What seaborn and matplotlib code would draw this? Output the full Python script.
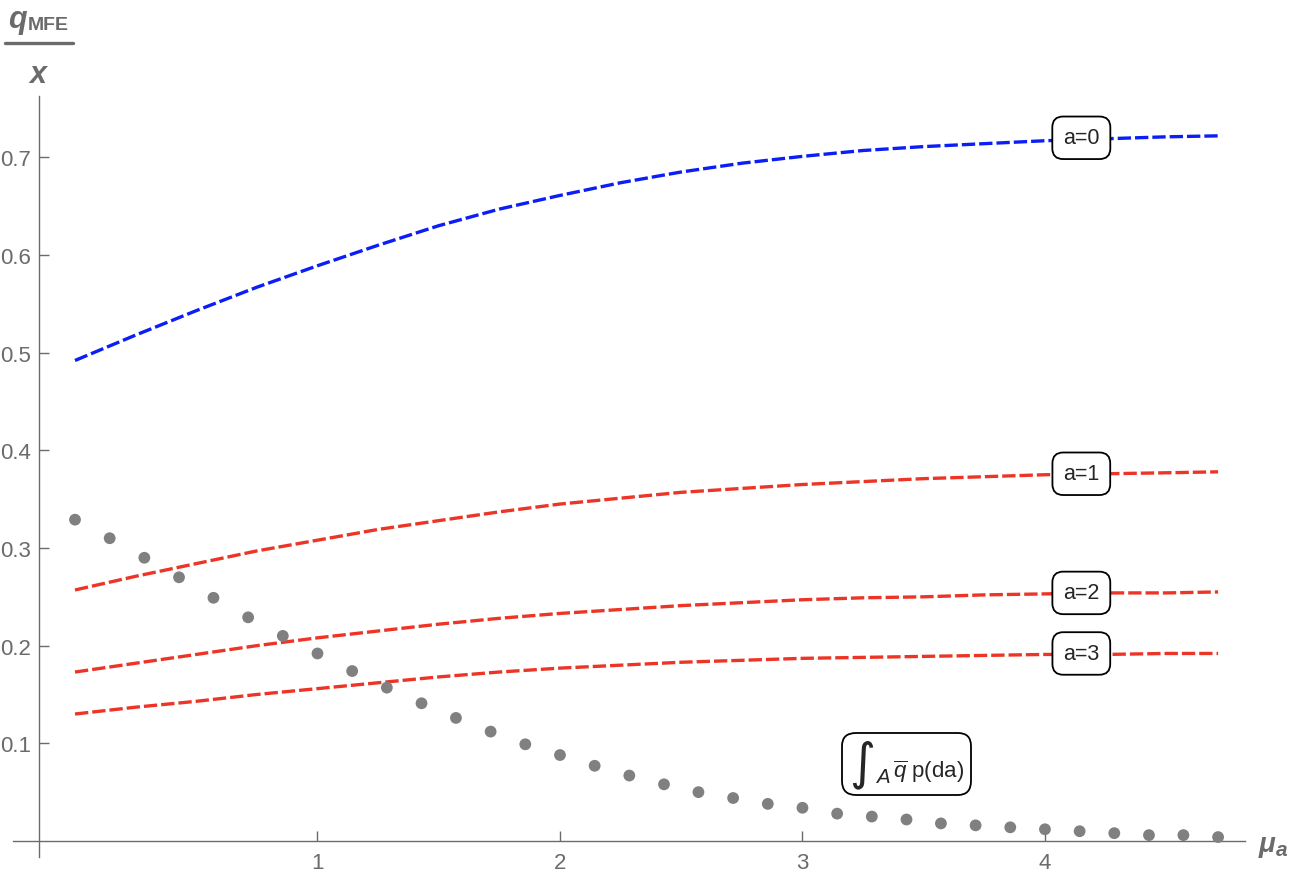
import numpy as np
import pandas as pd
import matplotlib
matplotlib.use("Agg")
import matplotlib.pyplot as plt
import seaborn as sns
from matplotlib.lines import Line2D
from matplotlib.offsetbox import TextArea, HPacker, AnnotationBbox

# curves q_MFE/x against mu_a, one per a
mu = [0.0, 0.25, 0.5, 0.75, 1.0, 1.25, 1.5, 1.75, 2.0, 2.25, 2.5, 2.75,
      3.0, 3.25, 3.5, 3.75, 4.0, 4.25, 4.5, 4.714]
q_a0 = [0.492, 0.518, 0.543, 0.567, 0.589, 0.610, 0.630, 0.647, 0.661, 0.674,
        0.685, 0.694, 0.701, 0.707, 0.711, 0.714, 0.717, 0.719, 0.721, 0.722]
q_a1 = [0.257, 0.271, 0.284, 0.297, 0.308, 0.319, 0.328, 0.337, 0.345, 0.351,
        0.357, 0.361, 0.365, 0.368, 0.371, 0.373, 0.375, 0.376, 0.377, 0.378]
q_a2 = [0.173, 0.182, 0.191, 0.200, 0.208, 0.215, 0.222, 0.228, 0.233, 0.237,
        0.241, 0.244, 0.247, 0.249, 0.250, 0.252, 0.253, 0.254, 0.254, 0.255]
q_a3 = [0.130, 0.137, 0.143, 0.150, 0.156, 0.162, 0.168, 0.173, 0.177, 0.180,
        0.183, 0.185, 0.187, 0.188, 0.189, 0.190, 0.191, 0.191, 0.192, 0.192]

# integral over A of q-bar p(da)
dot_mu = [0.000, 0.143, 0.286, 0.429, 0.571, 0.714, 0.857, 1.000, 1.143, 1.286,
          1.429, 1.571, 1.714, 1.857, 2.000, 2.143, 2.286, 2.429, 2.571, 2.714,
          2.857, 3.000, 3.143, 3.286, 3.429, 3.571, 3.714, 3.857, 4.000, 4.143,
          4.286, 4.429, 4.571, 4.714]
dot_q = [0.329, 0.310, 0.290, 0.270, 0.249, 0.229, 0.210, 0.192, 0.174, 0.157,
         0.141, 0.126, 0.112, 0.099, 0.088, 0.077, 0.067, 0.058, 0.050, 0.044,
         0.038, 0.034, 0.028, 0.025, 0.022, 0.018, 0.016, 0.014, 0.012, 0.010,
         0.008, 0.006, 0.006, 0.004]

labels = ["a=0", "a=1", "a=2", "a=3"]
label_y = [0.720, 0.376, 0.254, 0.192]
y_ticks = [0.1, 0.2, 0.3, 0.4, 0.5, 0.6, 0.7]
x_ticks = [1, 2, 3, 4]

sns.set_style("white")
plt.rcParams['font.family'] = ['Liberation Sans', 'DejaVu Sans']
plt.rcParams['mathtext.fontset'] = 'custom'
plt.rcParams['mathtext.rm'] = 'Liberation Sans'
plt.rcParams['mathtext.it'] = 'Liberation Sans:italic'

gray = '#6b6b6b'
blue = '#0a1ef5'
red = '#ec3526'

fig = plt.figure(figsize=(13, 8.78), dpi=100)
W, H = 1300, 878
ax = fig.add_axes([13 / W, (H - 858) / H, (1245 - 13) / W, (858 - 97) / H])

df = pd.DataFrame({'mu': mu * 4,
                   'q': q_a0 + q_a1 + q_a2 + q_a3,
                   'a': sum([[l] * len(mu) for l in labels], [])})
colors = {"a=0": blue, "a=1": red, "a=2": red, "a=3": red}
for lab in labels:
    sub = df[df['a'] == lab]
    sns.lineplot(data=sub, x='mu', y='q', color=colors[lab], linewidth=2.4,
                 linestyle=(0, (4.0, 1.2)), ax=ax, zorder=2)

sns.scatterplot(x=dot_mu, y=dot_q, color='#808080', s=72, edgecolor='none',
                ax=ax, zorder=3)

for lab, ly in zip(labels, label_y):
    ax.text(4.15, ly, lab, fontsize=15.5, ha='center', va='center', zorder=5,
            bbox=dict(boxstyle='round,pad=0.5,rounding_size=0.5',
                      fc='white', ec='black', lw=1.3))

# callout for the dotted series, with a tall integral sign
int_sign = TextArea('∫', textprops=dict(fontsize=36,
                                        family=['DejaVu Sans']))
int_sub = TextArea(r'$_{A}$', textprops=dict(fontsize=21))
int_head = HPacker(children=[int_sign, int_sub], align='baseline', pad=0,
                   sep=0)
int_body = TextArea(r'$\overline{q}$ p(da)', textprops=dict(fontsize=16))
pack = HPacker(children=[int_head, int_body], align='baseline', pad=0, sep=2)
ab = AnnotationBbox(pack, (3.43, 0.079), frameon=True, pad=0.1, fontsize=16,
                    bboxprops=dict(boxstyle='round,pad=0.3,rounding_size=0.6',
                                   fc='white', ec='black', lw=1.3), zorder=5)
ax.add_artist(ab)

ax.set_xlim(-0.2557, 4.825)
ax.set_ylim(-0.0164, 0.7628)
ax.set_xlabel('')
ax.set_ylabel('')

for s in ['top', 'right']:
    ax.spines[s].set_visible(False)
ax.spines['left'].set_position(('data', -0.147))
ax.spines['bottom'].set_position(('data', 0))
for s in ['left', 'bottom']:
    ax.spines[s].set_color(gray)
    ax.spines[s].set_linewidth(1.0)

ax.set_xticks(x_ticks)
ax.set_xticklabels([str(t) for t in x_ticks])
ax.set_yticks(y_ticks)
ax.set_yticklabels([f"{t:.1f}" for t in y_ticks])
ax.set_yticks(np.arange(0.02, 0.77, 0.02), minor=True)
ax.tick_params(axis='both', which='major', direction='in', length=7,
               width=1.0, color=gray, labelcolor=gray, labelsize=16)
ax.tick_params(axis='y', which='minor', direction='in', length=4,
               width=0.8, color=gray)
ax.tick_params(axis='x', which='major', pad=8)
ax.tick_params(axis='y', which='major', pad=6)
ax.tick_params(left=True, bottom=True)

# axis labels drawn Mathematica style
def fx(px):
    return px / W

def fy(py):
    return 1 - py / H

fig.text(fx(8), fy(28), 'q', fontsize=22, fontweight='bold', style='italic',
         color=gray, ha='left', va='baseline')
fig.text(fx(28), fy(30), 'MFE', fontsize=14, fontweight='bold',
         color=gray, ha='left', va='baseline')
fig.add_artist(Line2D([fx(5), fx(73)], [fy(44), fy(44)], color=gray, lw=2.4))
fig.text(fx(38), fy(83), 'x', fontsize=22, fontweight='bold', style='italic',
         color=gray, ha='center', va='baseline')

fig.text(fx(1259), fy(852), 'μ', fontsize=20, fontweight='bold',
         style='italic', color=gray, ha='left', va='baseline')
fig.text(fx(1276), fy(856), 'a', fontsize=15, fontweight='bold',
         style='italic', color=gray, ha='left', va='baseline')

fig.savefig('out.png', dpi=100, facecolor='white')
